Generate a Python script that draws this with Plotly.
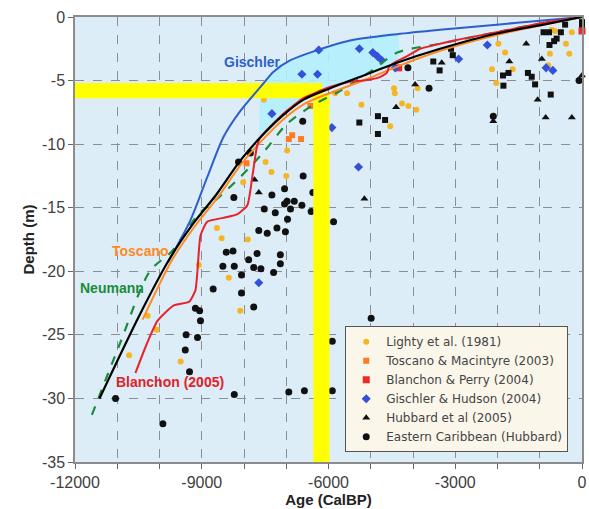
import plotly.graph_objects as go

# ---------------- data ----------------
# Curves (age in years, negative = BP; depth in m)
gischler_x = [-9800, -9270, -8870, -8480, -8090, -7610, -7300, -6900, -6350, -5560, -4380, -3360, -2020, -1000, 0]
gischler_y = [-19.3, -16.0, -12.6, -9.4, -7.4, -5.5, -4.3, -3.4, -2.7, -1.9, -1.35, -1.0, -0.6, -0.3, 0]

main_x = [-11420, -10450, -9740, -9190, -8640, -8090, -7650, -7100, -6590, -5960, -5170, -4380, -3360, -2020, -910, 0]
main_y = [-30.0, -23.3, -18.9, -16.2, -13.9, -11.3, -9.6, -7.8, -6.5, -5.6, -4.6, -3.6, -2.5, -1.3, -0.6, 0]

toscano_x = [-10400, -9700, -9150, -8600, -8050, -7600, -7050, -6550, -5900, -5100, -4300, -3300, -2000, -900, 0]
toscano_y = [-23.8, -19.1, -16.4, -14.1, -11.5, -9.8, -8.0, -6.8, -5.9, -4.9, -3.8, -2.6, -1.4, -0.6, 0]

neumann_x = [-11600, -10950, -10230, -9700, -9100, -8640, -8090, -7530, -6980, -6400, -5720, -5010, -4370, -3360, -2020, -910, 0]
neumann_y = [-31.3, -25.8, -20.0, -18.4, -15.6, -14.3, -12.6, -10.6, -8.4, -7.0, -5.8, -4.3, -2.8, -2.1, -1.2, -0.45, 0]

blanchon_x = [-10570, -10300, -10050, -9670, -9300, -9150, -9100, -9030, -8870, -8500, -8150, -7920, -7800, -7700, -7620,
              -7100, -6600, -6000, -5500, -5170, -4800, -4620, -4570, -4420, -4150, -3830, -3360, -2810, -2020, -910, 0]
blanchon_y = [-28.0, -25.7, -23.9, -22.7, -22.4, -21.5, -19.9, -17.2, -16.1, -15.8, -15.5, -14.8, -12.5, -10.3, -9.5,
              -7.7, -6.4, -5.55, -5.1, -5.0, -4.75, -4.4, -3.95, -3.55, -3.1, -2.5, -2.1, -1.7, -1.2, -0.45, 0]

# Scatter datasets
lighty_x = [-6980, -7490, -7350, -7000, -8020, -8640, -8530, -7910, -9070, -8360, -8090, -9500, -10280, -10070, -10720,
            -7530, -4450, -4430, -5560, -5840, -5220, -4260, -4110, -3920, -4540, -3890, -1980, -1820, -2130, -1640,
            -2030, -760, -800, -380, -300, -240, -720, -640]
lighty_y = [-10.5, -11.4, -12.2, -12.5, -13.0, -16.6, -17.4, -17.5, -19.5, -20.5, -23.1, -27.1, -23.5, -24.6, -26.6,
            -6.5, -5.6, -6.0, -6.0, -6.0, -6.9, -6.8, -7.0, -7.3, -8.6, -5.6, -2.1, -2.8, -4.1, -4.1,
            -5.2, -2.9, -3.8, -2.1, -2.9, -1.2, -1.0, -1.1]

toscano_pts_x = [-7940, -6940, -6860, -6650, -6430]
toscano_pts_y = [-11.5, -9.6, -9.3, -9.6, -7.0]

blanchon_pts_x = [-1300, -1200, -1100, -1000, -1150, 0, -4340]
blanchon_pts_y = [0.3, 0.6, 0.2, 0.5, 0.1, -1.1, -4.0]

gisch_pts_x = [-7340, -7650, -6230, -5270, -4950, -4840, -4740, -6630, -6260, -4420, -5920, -5290, -2920, -2240, -850, -690]
gisch_pts_y = [-7.6, -20.9, -2.6, -2.5, -2.8, -3.1, -3.4, -4.5, -4.5, -4.0, -8.7, -11.8, -3.3, -2.2, -4.0, -4.2]

hubbard_tri_x = [-7750, -7650, -5150, -3950, -4400, -1320, -1720, -950, -1050, -860, -240, -2100, -3320, 0]
hubbard_tri_y = [-12.8, -13.8, -14.3, -5.3, -7.1, -2.1, -3.5, -3.3, -6.5, -7.9, -7.9, -8.2, -3.6, -4.6]

carib_x = [-7850, -8130, -8240, -7340, -7040, -6980, -6810, -7040, -6900, -7520, -7260, -6970, -7650, -7450, -7220,
           -7020, -8420, -8260, -7690, -7140, -7140, -7890, -8500, -8230, -7770, -7600, -8060, -7300, -8730, -8060,
           -7770, -9150, -9050, -9030, -9370, -9100, -9390, -9290, -8230, -6940, -6570, -5910, -5910, -9920, -10450,
           -11040, -6600, -6630, -6410, -5880, -4990, -6370, -4120, -3620, -6610, -2100, -70]
carib_y = [-10.7, -11.4, -14.2, -14.0, -13.5, -14.5, -14.5, -14.7, -15.1, -15.1, -15.4, -15.9, -16.8, -17.0, -16.6,
           -16.9, -18.5, -18.4, -18.6, -18.7, -19.4, -19.1, -19.6, -19.6, -19.7, -19.8, -20.3, -20.1, -21.4, -21.7,
           -22.8, -22.9, -23.1, -23.9, -25.0, -25.2, -26.2, -27.9, -29.7, -29.5, -29.4, -29.4, -25.5, -32.0, -35.2,
           -30.0, -12.5, -14.8, -15.3, -16.1, -23.7, -13.8, -4.0, -5.6, -8.2, -7.8, -5.0]

sq_x = [-3520, -5270, -4830, -4660, -4830, -3370, -3100, -3060, -1870, -1740, -1860, -1280, -1190, -1110, -740,
        -910, -780, -770, -660, -600, -500, -400, 0, 0]
sq_y = [-3.5, -8.3, -7.8, -8.1, -9.2, -4.2, -2.5, -3.0, -4.6, -4.4, -5.4, -4.4, -4.7, -5.3, -6.1,
        -1.2, -1.2, -2.2, -1.9, -1.7, -1.2, -0.6, -0.4, -0.6]

# Highlight bands (age, depth)
band_h_x = [-12000, -6150]
band_h_y = [-5.2, -6.4]
band_v_x = [-6360, -5980]
band_v_y = [-6.0, -35]

# Axis ticks
x_tickvals = [-12000, -11000, -10000, -9000, -8000, -7000, -6000, -5000, -4000, -3000, -2000, -1000, 0]
x_ticktext = ['-12000', '', '', '-9000', '', '', '-6000', '', '', '-3000', '', '', '0']
y_tickvals = [0, -5, -10, -15, -20, -25, -30, -35]
y_ticktext = ['0', '-5', '-10', '-15', '-20', '-25', '-30', '-35']

FONT = 'Liberation Sans, Arial, sans-serif'

# ---------------- figure ----------------
fig = go.Figure()

# cyan shaded area between Gischler curve and main curve
fill_top = [(x, y) for x, y in zip(gischler_x, gischler_y) if -7700 <= x <= -4380]
fill_bot = [(x, y) for x, y in zip(main_x, main_y) if -7700 <= x <= -4380][::-1]
poly = fill_top + fill_bot
fig.add_trace(go.Scatter(x=[p[0] for p in poly], y=[p[1] for p in poly], mode='lines',
                         fill='toself', fillcolor='rgba(178,238,252,0.9)',
                         line=dict(width=0, shape='spline', smoothing=0.6),
                         showlegend=False, hoverinfo='skip'))

fig.add_trace(go.Scatter(x=lighty_x, y=lighty_y, mode='markers', name='Lighty et al. (1981)',
                         marker=dict(symbol='circle', size=6, color='#f6b623'), cliponaxis=False))
fig.add_trace(go.Scatter(x=toscano_pts_x, y=toscano_pts_y, mode='markers', name='Toscano & Macintyre (2003)',
                         marker=dict(symbol='square', size=6, color='#ff7b22'), cliponaxis=False))
fig.add_trace(go.Scatter(x=blanchon_pts_x, y=blanchon_pts_y, mode='markers', name='Blanchon & Perry (2004)',
                         marker=dict(symbol='square', size=7, color='#f02828'), cliponaxis=False))
fig.add_trace(go.Scatter(x=gisch_pts_x, y=gisch_pts_y, mode='markers', name='Gischler & Hudson (2004)',
                         marker=dict(symbol='diamond', size=7, color='#3450d8'), cliponaxis=False))
fig.add_trace(go.Scatter(x=hubbard_tri_x, y=hubbard_tri_y, mode='markers', name='Hubbard et al (2005)',
                         marker=dict(symbol='triangle-up', size=7, color='#111111'), cliponaxis=False))
fig.add_trace(go.Scatter(x=carib_x, y=carib_y, mode='markers', name='Eastern Caribbean (Hubbard)',
                         marker=dict(symbol='circle', size=7, color='#111111'), cliponaxis=False))
fig.add_trace(go.Scatter(x=sq_x, y=sq_y, mode='markers', showlegend=False,
                         marker=dict(symbol='square', size=6, color='#111111'), cliponaxis=False))

# yellow highlight bands
for bx, by in ((band_h_x, band_h_y), (band_v_x, band_v_y)):
    fig.add_trace(go.Scatter(x=[bx[0], bx[1], bx[1], bx[0], bx[0]], y=[by[0], by[0], by[1], by[1], by[0]],
                             mode='lines', fill='toself', fillcolor='#ffff00', line=dict(width=0),
                             showlegend=False, hoverinfo='skip'))

# curves
fig.add_trace(go.Scatter(x=neumann_x, y=neumann_y, mode='lines', showlegend=False,
                         line=dict(color='#1d8a3c', width=2.2, dash='dash', shape='spline', smoothing=0.8)))
fig.add_trace(go.Scatter(x=gischler_x, y=gischler_y, mode='lines', showlegend=False,
                         line=dict(color='#2d5fcc', width=2, shape='spline', smoothing=0.8)))
fig.add_trace(go.Scatter(x=toscano_x, y=toscano_y, mode='lines', showlegend=False,
                         line=dict(color='#ff8a1f', width=2, shape='spline', smoothing=0.8)))
fig.add_trace(go.Scatter(x=blanchon_x, y=blanchon_y, mode='lines', showlegend=False,
                         line=dict(color='#e8222a', width=2, shape='spline', smoothing=0.5)))
fig.add_trace(go.Scatter(x=main_x, y=main_y, mode='lines', showlegend=False,
                         line=dict(color='#000000', width=2.2, shape='spline', smoothing=0.8)))

# curve labels
labels = [
    ('Gischler', -7800, -3.5, '#2d5fcc'),
    ('Toscano', -10450, -18.4, '#ff8a1f'),
    ('Neumann', -11130, -21.3, '#1d8a3c'),
    ('Blanchon (2005)', -9760, -28.7, '#e02228'),
]
for txt, lx, ly, col in labels:
    fig.add_annotation(x=lx, y=ly, text='<b>' + txt + '</b>', showarrow=False,
                       font=dict(family=FONT, size=14, color=col))

axis_common = dict(showline=True, linecolor='#8c8c8c', linewidth=1.5, mirror=True, automargin=False,
                   ticks='outside', ticklen=5, tickcolor='#666666', tickwidth=1,
                   gridcolor='#8a8f96', griddash='dash', gridwidth=0.8, zeroline=False,
                   tickfont=dict(family=FONT, size=16, color='#404040'))

fig.update_xaxes(range=[-12000, 0], tickmode='array', tickvals=x_tickvals, ticktext=x_ticktext,
                 title=dict(text='<b>Age (CalBP)</b>', standoff=0,
                            font=dict(family=FONT, size=15, color='#222222')),
                 **axis_common)
fig.update_yaxes(range=[-35, 0], tickmode='array', tickvals=y_tickvals, ticktext=y_ticktext,
                 title=dict(text='<b>Depth (m)</b>', standoff=4,
                            font=dict(family=FONT, size=15, color='#222222')),
                 **axis_common)

fig.update_layout(
    width=589, height=509,
    margin=dict(l=75, r=7, t=17, b=47, autoexpand=False),
    paper_bgcolor='white', plot_bgcolor='#dcedf8',
    showlegend=True,
    legend=dict(x=0.533, y=0.022, xanchor='left', yanchor='bottom',
                bgcolor='#fbf6ea', bordercolor='#555555', borderwidth=1,
                font=dict(family='DejaVu Sans, sans-serif', size=12, color='#444444'),
                itemwidth=30, tracegroupgap=0),
)

# remove the browser's default 8 px page margin so the figure fills the window exactly
fig.write_html('out.html', config={'displayModeBar': False},
               post_script="document.body.style.margin='0px';")
